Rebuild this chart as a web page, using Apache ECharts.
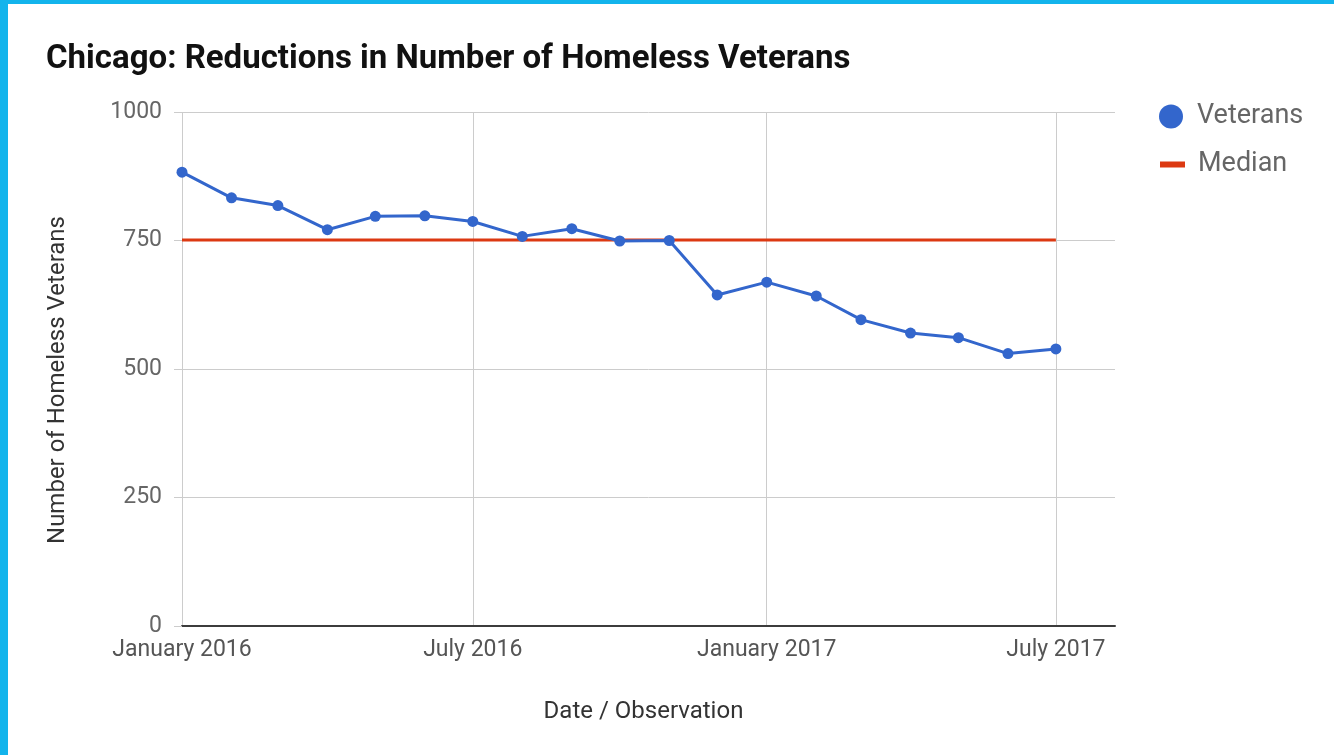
<!DOCTYPE html>
<html>
<head>
<meta charset="utf-8">
<script src="https://cdn.jsdelivr.net/npm/echarts@6/dist/echarts.min.js"></script>
<style>
  html, body { margin: 0; padding: 0; background: #fff; }
  #chart { position: absolute; left: 0; top: 0; width: 1334px; height: 755px; }
  .bt { position: absolute; left: 0; top: 0; width: 1334px; height: 4px; background: #12b4ec; }
  .bl { position: absolute; left: 0; top: 0; width: 8px; height: 755px; background: #12b4ec; }
</style>
</head>
<body>
<div id="chart"></div>
<div class="bt"></div>
<div class="bl"></div>
<script>
const titleText = 'Chicago: Reductions in Number of Homeless Veterans';
const dates = ['2016-01-01','2016-02-01','2016-03-01','2016-04-01','2016-05-01','2016-06-01','2016-07-01','2016-08-01','2016-09-01','2016-10-01','2016-11-01','2016-12-01','2017-01-01','2017-02-01','2017-03-01','2017-04-01','2017-05-01','2017-06-01','2017-07-01'];
const veterans = [883, 833, 818, 771, 797, 798, 787, 758, 773, 749, 750, 644, 669, 642, 596, 570, 561, 530, 539];
const medianValue = 751;
const xTickDates = ['2016-01-01','2016-07-01','2017-01-01','2017-07-01'];
const xTickLabels = ['January 2016','July 2016','January 2017','July 2017'];
const yTicks = [0, 250, 500, 750, 1000];

const parse = s => echarts.number.parseDate(s).getTime();
const xTickTs = xTickDates.map(parse);

const chart = echarts.init(document.getElementById('chart'));
chart.setOption({
  animation: false,
  backgroundColor: '#fff',
  title: {
    text: titleText, left: 41, top: 38,
    textStyle: { fontFamily: 'Roboto', fontWeight: 'bold', fontSize: 33, color: '#111' }
  },
  legend: [{
    data: ['Veterans'], orient: 'vertical', left: 1154, top: 98,
    icon: 'circle', itemWidth: 26, itemHeight: 24,
    textStyle: { fontFamily: 'Roboto', fontSize: 27, color: '#666', padding: [0, 0, 0, 8] }
  }, {
    data: ['Median'], orient: 'vertical', left: 1155, top: 146,
    icon: 'rect', itemWidth: 25, itemHeight: 6,
    textStyle: { fontFamily: 'Roboto', fontSize: 27, color: '#666', padding: [0, 0, 0, 8] }
  }],
  grid: { left: 182, right: 219, top: 112, bottom: 129 },
  xAxis: {
    type: 'value',
    min: parse('2016-01-01'), max: parse('2017-08-07'),
    name: 'Date / Observation', nameLocation: 'middle', nameGap: 74,
    nameTextStyle: { fontFamily: 'Roboto', fontSize: 24, color: '#333', padding: [0, 10, 0, 0] },
    axisLine: { show: true, onZero: false, lineStyle: { color: '#3c3c3c', width: 2 } },
    axisTick: { show: false, customValues: xTickTs },
    splitLine: { show: true, lineStyle: { color: '#ccc', width: 1 } },
    axisLabel: {
      customValues: xTickTs,
      margin: 13,
      fontFamily: 'Roboto', fontSize: 23, color: '#555',
      formatter: v => { const i = xTickTs.indexOf(v); return i >= 0 ? xTickLabels[i] : ''; }
    }
  },
  yAxis: {
    type: 'value', min: yTicks[0], max: yTicks[yTicks.length - 1], interval: 250,
    name: 'Number of Homeless Veterans', nameLocation: 'middle', nameRotate: 90, nameGap: 112,
    nameTextStyle: { fontFamily: 'Roboto', fontSize: 24, color: '#333', padding: [0, 22, 0, 0] },
    axisLine: { show: false },
    axisTick: { show: true, length: 8, lineStyle: { color: '#ccc' } },
    splitLine: { show: true, lineStyle: { color: '#ccc', width: 1 } },
    axisLabel: { margin: 20, fontFamily: 'Roboto', fontSize: 23, color: '#666', formatter: v => String(v) }
  },
  series: [{
    name: 'Veterans', type: 'line',
    data: dates.map((d, i) => [parse(d), veterans[i]]),
    symbol: 'circle', symbolSize: 11,
    itemStyle: { color: '#3366cc' },
    lineStyle: { color: '#3366cc', width: 3 },
    z: 3
  }, {
    name: 'Median', type: 'line',
    data: dates.map(d => [parse(d), medianValue]),
    showSymbol: false, symbol: 'none',
    itemStyle: { color: '#dc3912' },
    lineStyle: { color: '#dc3912', width: 3 },
    z: 2
  }]
});
</script>
</body>
</html>
